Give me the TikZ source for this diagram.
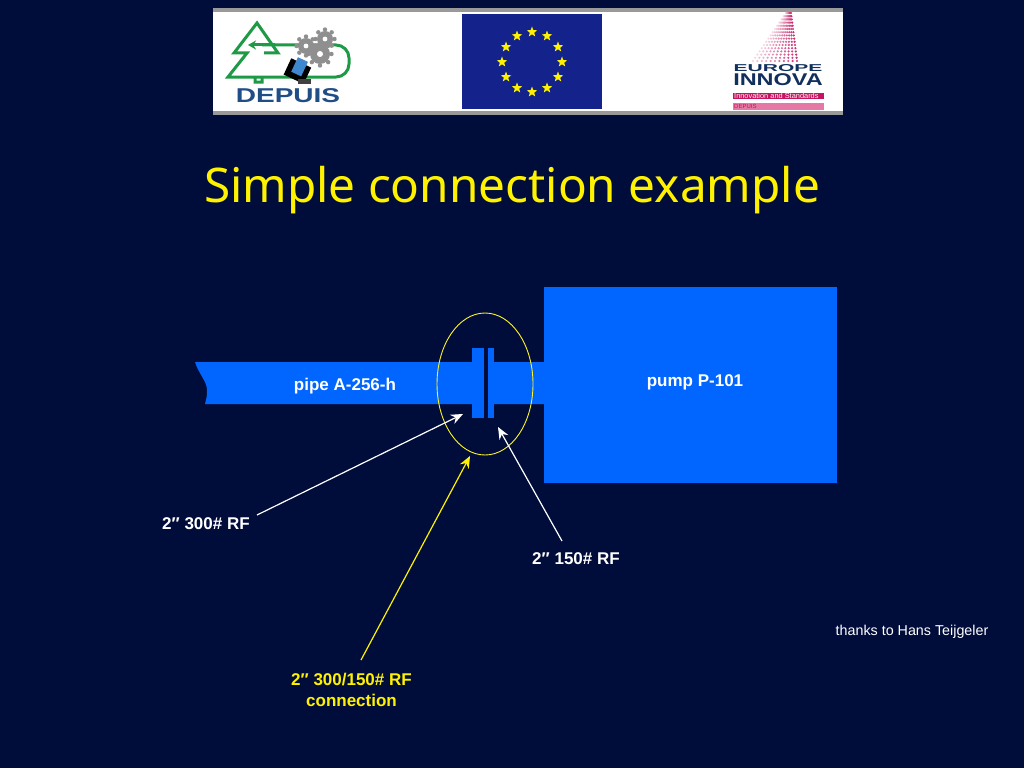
\documentclass[tikz,border=0pt]{standalone}
\usepackage{fontspec}
\setmainfont{Liberation Sans}
\newfontfamily\titlefont{Noto Sans}
\usetikzlibrary{arrows.meta,shapes.geometric}
\definecolor{bgnavy}{HTML}{000C3A}
\definecolor{pipeblue}{HTML}{0066FF}
\definecolor{flagblue}{HTML}{14238C}
\definecolor{treegreen}{HTML}{1E9A46}
\definecolor{gearcol}{HTML}{8F8F8F}
\definecolor{deptext}{HTML}{1F4E86}
\definecolor{magent}{HTML}{C4135F}
\definecolor{pinkb}{HTML}{E678A6}
\definecolor{starcol}{HTML}{FFF200}
\definecolor{innovacol}{HTML}{12305E}
\tikzset{
 x=1pt,y=-1pt,
 solidblue/.style={fill=pipeblue,draw=none},
 lbl/.style={font=\bfseries\fontsize{17}{21}\selectfont,text=white,align=center,inner sep=0pt},
 ylbl/.style={lbl,text=yellow},
 whitearrow/.style={draw=white,line width=1.2pt,-{Stealth[length=12pt,width=10pt]}},
 yellowarrow/.style={draw=yellow,line width=1.2pt,-{Stealth[length=12pt,width=10pt]}},
 treeline/.style={draw=treegreen,line width=3pt,line join=miter},
}
\newcommand{\euStar}[2]{\node[star,star points=5,star point ratio=2.4,fill=starcol,inner sep=0pt,minimum size=11pt,draw=none] at ({#1},{#2}) {};}
\newcommand{\gearShape}[3]{%
 \foreach \a in {0,45,...,315}{\fill[gearcol] (#1,#2) ++(\a:#3+1.5) circle (2.2);}
 \fill[gearcol] (#1,#2) circle (#3);
 \fill[white] (#1,#2) circle ({#3*0.3});}
\begin{document}
\begin{tikzpicture}
\useasboundingbox (0,0) rectangle (1024,768);
\fill[bgnavy] (0,0) rectangle (1024,768);
% banner
\fill[white] (213,9) rectangle (843,115);
\fill[gray!80] (213,8) rectangle (843,12);
\fill[gray!80] (213,111) rectangle (843,115);
% DEPUIS logo
\draw[treeline] (255,77) -- (255,82) -- (262,82) -- (262,77) (262,77) -- (228,77) -- (247,53) -- (234,53) -- (257,23) -- (278,53) -- (264,53);
\draw[treeline,rounded corners=13pt] (262,77) -- (349,77) -- (349,45) -- (262,45);
\draw[treeline,-{Stealth[length=8pt,width=9pt]}] (275,45) -- (248,45);
\gearShape{306}{46}{8}
\gearShape{325}{39}{8}
\gearShape{320}{54}{10}
\fill[black,rotate around={-25:(297,72)}] (286,62) rectangle (308,80);
\fill[cyan!55!blue!80!white,rotate around={-25:(300,67)}] (294,59) rectangle (305,75);
\fill[black!75] (298,79) rectangle (311,84);
\node[inner sep=0pt,text=deptext,font=\bfseries\fontsize{20}{20}\selectfont,xscale=1.4] (deplogo) at (288,96) {DEPUIS};
% EU flag
\fill[flagblue] (462,14) rectangle (602,109);
\foreach \a in {0,30,...,330}{\euStar{532+30*cos(\a)}{62+30*sin(\a)}}
% Europe Innova logo
\foreach \r in {0,...,15}{\foreach \c in {0,...,10}{
 \pgfmathsetmacro{\tr}{\r/15}
 \pgfmathsetmacro{\cx}{786-33*\tr+\c*(0.5+3.9*\tr)}
 \pgfmathsetmacro{\cy}{13+\r*3.2}
 \fill[magent!\the\numexpr 18+7*\c\relax!white] (\cx,\cy) circle (1.2);}}
\node[inner sep=0pt,text=innovacol,font=\bfseries\fontsize{10}{10}\selectfont,xscale=2.1] (eu1) at (778,68.5) {EUROPE};
\node[inner sep=0pt,text=innovacol,font=\bfseries\fontsize{17}{17}\selectfont,xscale=1.38] (eu2) at (778,80) {INNOVA};
\fill[magent] (733,93) rectangle (824,99);
\fill[pinkb] (733,103) rectangle (824,110);
\node[inner sep=0pt,anchor=west,text=white!85!pink,font=\fontsize{7.4}{7}\selectfont] (eu3) at (734,96) {Innovation and Standards};
\node[inner sep=0pt,anchor=west,text=magent,font=\fontsize{6}{7}\selectfont] (eu4) at (734,106.5) {DEPUIS};
% title
\node[inner sep=0pt,text=yellow,font=\titlefont\fontsize{47.7}{52}\selectfont] (title) at (512,190) {Simple connection example};
% pipe and pump
\fill[solidblue] (195,362) .. controls (199,375) and (208,382) .. (207,392) .. controls (207,397) and (206,400) .. (205,404) -- (546,404) -- (546,362) -- cycle;
\fill[solidblue] (544,287) rectangle (837,483);
\fill[bgnavy] (484,355) rectangle (488,410);
\fill[solidblue] (472,348) rectangle (484,418);
\fill[solidblue] (488,348) rectangle (494,418);
% ellipse
\node[draw=yellow!85!white,line width=0.9pt,ellipse,minimum width=96pt,minimum height=142pt,inner sep=0pt] (ring) at (485,384) {};
% labels
\node[lbl] (pipe) at (345,386) {pipe A-256-h};
\node[lbl] (pump) at (695,382) {pump P-101};
\node[lbl] (l300) at (206,524) {2″ 300\# RF};
\node[lbl] (l150) at (576,559) {2″ 150\# RF};
\node[ylbl] (lconn) at (351.5,690) {2″ 300/150\# RF\\connection};
\node[inner sep=0pt,text=white,font=\fontsize{14.3}{16}\selectfont] (thanks) at (912,632) {thanks to Hans Teijgeler};
% arrows
\coordinate (a1s) at (257,515); \coordinate (a1e) at (463,414);
\coordinate (a2s) at (562,541); \coordinate (a2e) at (498,427);
\coordinate (a3s) at (361,660); \coordinate (a3e) at (470,456);
\draw[whitearrow] (a1s) -- (a1e);
\draw[whitearrow] (a2s) -- (a2e);
\draw[yellowarrow] (a3s) -- (a3e);
\end{tikzpicture}
\end{document}
